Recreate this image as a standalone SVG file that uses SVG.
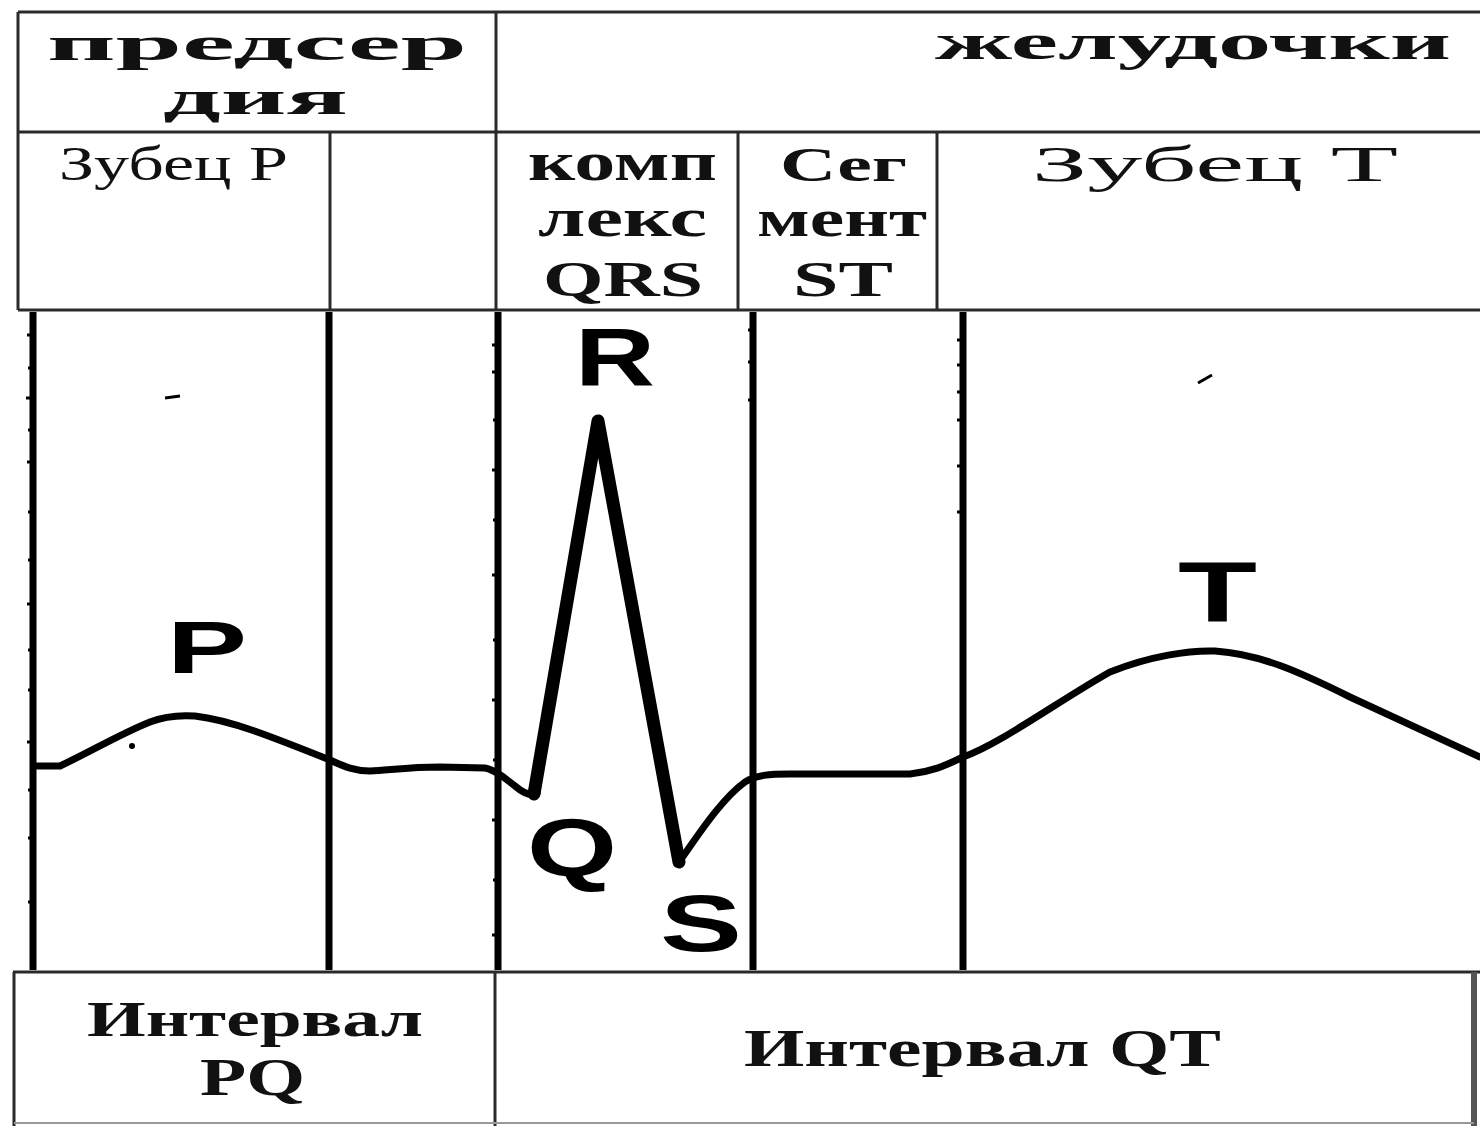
<svg xmlns="http://www.w3.org/2000/svg" width="1480" height="1126" viewBox="0 0 1480 1126">
<style>
.tl{stroke:#2a2a2a;stroke-width:3;fill:none}
.vl{stroke:#000;stroke-width:7;fill:none}
.tick{stroke:#000;stroke-width:3;fill:none}
.wave{stroke:#000;stroke-width:7;fill:none;stroke-linejoin:round;stroke-linecap:round}
.qrs{stroke:#000;stroke-width:13;fill:none;stroke-linejoin:round;stroke-linecap:round}
.hd{font-family:"Liberation Serif","Times New Roman",serif;font-weight:bold;fill:#111}
.hr{font-family:"Liberation Serif","Times New Roman",serif;font-weight:normal;fill:#111}
.lb{font-family:"Liberation Sans",Arial,sans-serif;font-weight:bold;fill:#000}
</style>
<rect width="1480" height="1126" fill="#fff"/>

<g id="header-table">
  <line class="tl" x1="18" y1="12" x2="1480" y2="12"/>
  <line class="tl" x1="18" y1="12" x2="18" y2="310"/>
  <line class="tl" x1="18" y1="132" x2="1480" y2="132"/>
  <line class="tl" x1="496" y1="12" x2="496" y2="310"/>
  <line class="tl" x1="330" y1="132" x2="330" y2="310"/>
  <line class="tl" x1="738" y1="132" x2="738" y2="310"/>
  <line class="tl" x1="937" y1="132" x2="937" y2="310"/>
  <line class="tl" x1="18" y1="310" x2="1480" y2="310"/>
</g>

<g id="cell-atria">
  <text class="hd" x="47" y="60" font-size="48" textLength="420" lengthAdjust="spacingAndGlyphs">предсер</text>
  <text class="hd" x="163" y="114" font-size="48" textLength="185" lengthAdjust="spacingAndGlyphs">дия</text>
</g>
<g id="cell-ventricles">
  <text class="hd" x="935" y="59" font-size="50" textLength="516" lengthAdjust="spacingAndGlyphs">желудочки</text>
</g>
<g id="cell-p-wave">
  <text class="hr" x="59" y="180" font-size="48" textLength="229" lengthAdjust="spacingAndGlyphs">Зубец P</text>
</g>
<g id="cell-qrs">
  <text class="hd" x="528" y="180" font-size="54" textLength="189" lengthAdjust="spacingAndGlyphs">комп</text>
  <text class="hd" x="538" y="236" font-size="54" textLength="169" lengthAdjust="spacingAndGlyphs">лекс</text>
  <text class="hd" x="543" y="296" font-size="50" textLength="160" lengthAdjust="spacingAndGlyphs">QRS</text>
</g>
<g id="cell-st">
  <text class="hd" x="780" y="181" font-size="48" textLength="127" lengthAdjust="spacingAndGlyphs">Сег</text>
  <text class="hd" x="757" y="236" font-size="52" textLength="170" lengthAdjust="spacingAndGlyphs">мент</text>
  <text class="hd" x="793" y="296" font-size="50" textLength="100" lengthAdjust="spacingAndGlyphs">ST</text>
</g>
<g id="cell-t-wave">
  <text class="hr" x="1032" y="181" font-size="50" textLength="366" lengthAdjust="spacingAndGlyphs">Зубец T</text>
</g>

<g id="graph-lines">
  <line class="vl" x1="33" y1="312" x2="33" y2="970"/>
  <line class="vl" x1="329" y1="312" x2="329" y2="970"/>
  <line class="vl" x1="498" y1="312" x2="498" y2="970"/>
  <line class="vl" x1="753" y1="312" x2="753" y2="970"/>
  <line class="vl" x1="963" y1="312" x2="963" y2="970"/>
  <path class="tick" d="M27,335h6M28,368h5M26,398h7M28,430h5M27,462h6M28,512h5M28,560h5M27,604h6M28,650h5M28,690h5M27,742h6M28,790h5M28,838h5M28,902h5
M492,345h6M492,372h6M493,420h5M492,470h6M493,520h5M492,575h6M493,640h5M492,700h6M493,760h5M492,820h6M493,880h5M492,935h6
M748,330h5M748,362h5M748,400h5M957,340h6M957,365h6M957,392h6M957,420h6M957,466h6M957,512h6"/>
  <path class="tick" d="M165,398l15,-2M1198,383l14,-8"/>
  <circle cx="132" cy="746" r="3" fill="#000"/>
</g>

<g id="connectors">
  <path class="wave" d="M35,766 L60,766 C90,752 120,734 150,722 C165,716 180,715 195,716 C230,720 270,736 330,760 C345,767 355,771 370,771 C390,770 410,767 440,767 L485,768 C495,770 505,778 515,786 C522,792 530,797 537,793 M679,862 C695,840 720,800 745,782 C755,775 770,774 790,774 L910,774 C930,772 945,766 963,757 C1000,744 1060,700 1110,672 C1150,656 1190,650 1215,651 C1260,654 1300,672 1350,697 L1480,757"/>
  <path class="qrs" d="M534,794 L598,421 L679,862"/>
</g>

<g id="wave-labels">
  <text class="lb" x="167" y="673" font-size="75" textLength="80" lengthAdjust="spacingAndGlyphs">P</text>
  <text class="lb" x="575" y="385" font-size="82" textLength="80" lengthAdjust="spacingAndGlyphs">R</text>
  <text class="lb" x="527" y="876" font-size="82" textLength="90" lengthAdjust="spacingAndGlyphs">Q</text>
  <text class="lb" x="660" y="951" font-size="80" textLength="82" lengthAdjust="spacingAndGlyphs">S</text>
  <text class="lb" x="1178" y="621" font-size="86" textLength="79" lengthAdjust="spacingAndGlyphs">T</text>
</g>

<g id="footer-table">
  <line class="tl" x1="13" y1="972" x2="1480" y2="972"/>
  <line class="tl" x1="14" y1="972" x2="14" y2="1126"/>
  <line class="tl" x1="495" y1="972" x2="495" y2="1126"/>
  <line x1="1474" y1="972" x2="1474" y2="1126" stroke="#555" stroke-width="6"/>
  <line x1="14" y1="1123" x2="1474" y2="1123" stroke="#999" stroke-width="2"/>
</g>
<g id="cell-pq">
  <text class="hd" x="87" y="1036" font-size="50" textLength="336" lengthAdjust="spacingAndGlyphs">Интервал</text>
  <text class="hd" x="200" y="1095" font-size="52" textLength="105" lengthAdjust="spacingAndGlyphs">PQ</text>
</g>
<g id="cell-qt">
  <text class="hd" x="744" y="1066" font-size="52" textLength="477" lengthAdjust="spacingAndGlyphs">Интервал QT</text>
</g>
</svg>
